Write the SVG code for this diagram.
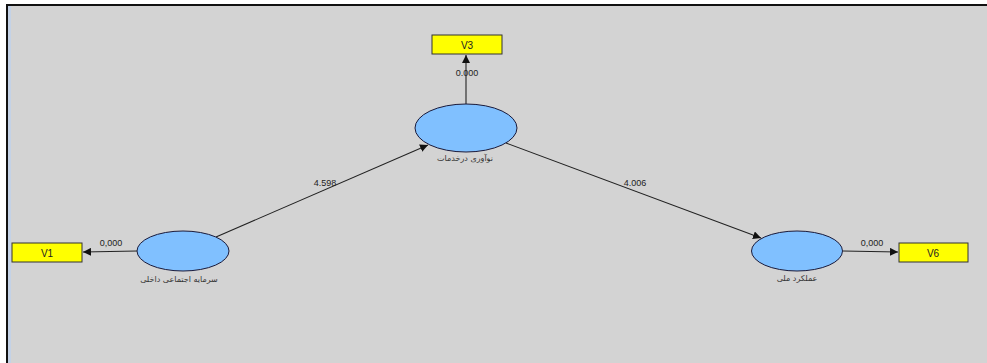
<svg xmlns="http://www.w3.org/2000/svg" width="987" height="363" viewBox="0 0 987 363">
<defs>
<style>
.lv{fill:#80C0FF;stroke:#1a1a3a;stroke-width:1}
.ind{fill:#FFFF00;stroke:#333;stroke-width:1}
.conn{stroke:#222;stroke-width:1.1;fill:none;marker-end:url(#ah)}
.num{font-family:"Liberation Sans",Arial,sans-serif;font-size:9px;fill:#222;text-anchor:middle}
.vt{font-family:"Liberation Sans",Arial,sans-serif;font-size:10px;fill:#222;text-anchor:middle}
.fa{font-family:"DejaVu Sans","Noto Sans",sans-serif;font-size:8px;fill:#333;text-anchor:middle}
</style>
<marker id="ah" viewBox="0 0 10 10" refX="10" refY="5" markerWidth="8" markerHeight="8" markerUnits="userSpaceOnUse" orient="auto">
<path d="M0,0 L10,5 L0,10 z" fill="#111"/>
</marker>
</defs>
<rect x="0" y="0" width="987" height="363" fill="#ffffff"/>
<rect x="7" y="5" width="980" height="358" fill="#D3D3D3"/>
<rect x="8" y="6" width="3" height="357" fill="#C4D2E6"/>
<line x1="6" y1="5" x2="987" y2="5" stroke="#111" stroke-width="2"/>
<line x1="7" y1="4" x2="7" y2="363" stroke="#111" stroke-width="2"/>
<g id="connectors">
<line class="conn" x1="216" y1="237" x2="428" y2="145"/>
<line class="conn" x1="506" y1="143" x2="761" y2="238"/>
<line class="conn" x1="466" y1="104" x2="466" y2="55"/>
<line class="conn" x1="137" y1="251" x2="83" y2="252"/>
<line class="conn" x1="843" y1="251" x2="898" y2="252"/>
<text class="num" x="325" y="186">4.598</text>
<text class="num" x="635" y="186">4.006</text>
<text class="num" x="467" y="76">0.000</text>
<text class="num" x="111" y="246">0,000</text>
<text class="num" x="872" y="246">0,000</text>
</g>
<g id="node-v3">
<rect class="ind" x="432" y="35" width="70" height="19"/>
<text class="vt" x="467" y="49">V3</text>
</g>
<g id="node-v1">
<rect class="ind" x="12" y="243" width="70" height="19"/>
<text class="vt" x="47" y="257">V1</text>
</g>
<g id="node-v6">
<rect class="ind" x="899" y="243" width="69" height="19"/>
<text class="vt" x="933" y="257">V6</text>
</g>
<g id="node-innovation">
<ellipse class="lv" cx="466" cy="128" rx="51" ry="24"/>
<text class="fa" x="465" y="161">نوآوری درخدمات</text>
</g>
<g id="node-social-capital">
<ellipse class="lv" cx="183" cy="251" rx="46" ry="20"/>
<text class="fa" x="179" y="282">سرمایه اجتماعی داخلی</text>
</g>
<g id="node-performance">
<ellipse class="lv" cx="797" cy="251" rx="45.5" ry="20"/>
<text class="fa" x="797" y="281">عملکرد ملی</text>
</g>
</svg>
